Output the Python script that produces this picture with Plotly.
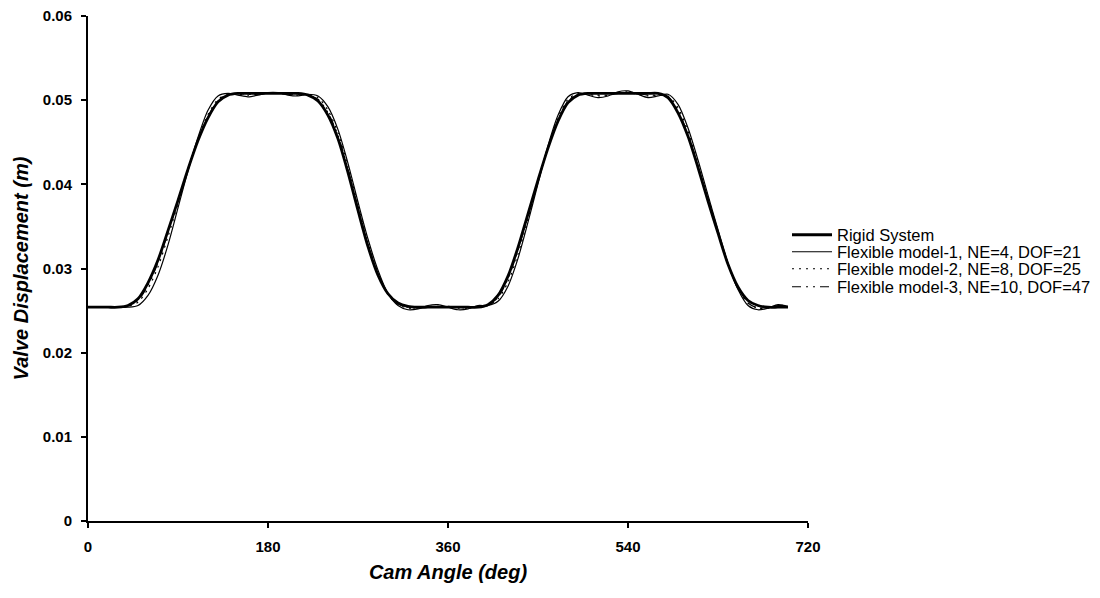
import plotly.graph_objects as go

# Cam angle (deg)
angle = list(range(0, 701, 10))

rigid = [
    0.0254, 0.0254, 0.0254, 0.0254, 0.0256, 0.0264, 0.0283, 0.0310, 0.0345, 0.0381,
    0.0418, 0.0452, 0.0479, 0.0498, 0.0506, 0.0508, 0.0508, 0.0508, 0.0508, 0.0508,
    0.0508, 0.0508, 0.0506, 0.0499, 0.0482, 0.0454, 0.0414, 0.0369, 0.0326, 0.0292,
    0.0270, 0.0259, 0.0255, 0.0254, 0.0254, 0.0254, 0.0254, 0.0254, 0.0254, 0.0254,
    0.0257, 0.0268, 0.0291, 0.0325, 0.0365, 0.0405, 0.0443, 0.0475, 0.0497, 0.0506,
    0.0508, 0.0508, 0.0508, 0.0508, 0.0508, 0.0508, 0.0508, 0.0508, 0.0503, 0.0485,
    0.0457, 0.0420, 0.0380, 0.0342, 0.0305, 0.0278, 0.0262, 0.0256, 0.0254, 0.0254,
    0.0254,
]

flex1 = [
    0.0254, 0.0254, 0.0254, 0.0254, 0.0254, 0.0256, 0.0268, 0.0292, 0.0328, 0.0372,
    0.0416, 0.0456, 0.0488, 0.0505, 0.0508, 0.0506, 0.0504, 0.0506, 0.0509, 0.0509,
    0.0506, 0.0505, 0.0507, 0.0505, 0.0492, 0.0465, 0.0425, 0.0379, 0.0335, 0.0298,
    0.0270, 0.0256, 0.0251, 0.0252, 0.0256, 0.0257, 0.0254, 0.0251, 0.0252, 0.0256,
    0.0256, 0.0261, 0.0279, 0.0312, 0.0355, 0.0401, 0.0446, 0.0482, 0.0504, 0.0509,
    0.0506, 0.0503, 0.0505, 0.0510, 0.0511, 0.0507, 0.0503, 0.0505, 0.0507, 0.0495,
    0.0467, 0.0429, 0.0387, 0.0346, 0.0306, 0.0275, 0.0256, 0.0251, 0.0253, 0.0257,
    0.0255,
]

flex2 = [
    0.0254, 0.0254, 0.0254, 0.0254, 0.0255, 0.0260, 0.0276, 0.0302, 0.0338, 0.0377,
    0.0417, 0.0454, 0.0483, 0.0501, 0.0507, 0.0507, 0.0506, 0.0507, 0.0508, 0.0508,
    0.0507, 0.0506, 0.0507, 0.0503, 0.0488, 0.0461, 0.0421, 0.0375, 0.0331, 0.0295,
    0.0269, 0.0257, 0.0253, 0.0253, 0.0255, 0.0255, 0.0254, 0.0253, 0.0253, 0.0255,
    0.0256, 0.0264, 0.0284, 0.0317, 0.0359, 0.0403, 0.0444, 0.0479, 0.0501, 0.0508,
    0.0507, 0.0505, 0.0506, 0.0509, 0.0509, 0.0507, 0.0505, 0.0506, 0.0505, 0.0491,
    0.0463, 0.0426, 0.0385, 0.0344, 0.0306, 0.0277, 0.0259, 0.0253, 0.0254, 0.0256,
    0.0255,
]

flex3 = [
    0.0254, 0.0254, 0.0254, 0.0254, 0.0255, 0.0262, 0.0280, 0.0307, 0.0343, 0.0380,
    0.0418, 0.0453, 0.0481, 0.0499, 0.0507, 0.0508, 0.0507, 0.0507, 0.0508, 0.0508,
    0.0507, 0.0507, 0.0506, 0.0501, 0.0485, 0.0458, 0.0418, 0.0372, 0.0329, 0.0294,
    0.0270, 0.0258, 0.0254, 0.0253, 0.0254, 0.0255, 0.0255, 0.0254, 0.0253, 0.0254,
    0.0256, 0.0266, 0.0288, 0.0322, 0.0363, 0.0404, 0.0443, 0.0476, 0.0499, 0.0507,
    0.0508, 0.0506, 0.0506, 0.0508, 0.0510, 0.0508, 0.0506, 0.0506, 0.0504, 0.0488,
    0.0459, 0.0421, 0.0381, 0.0342, 0.0305, 0.0276, 0.0259, 0.0253, 0.0253, 0.0256,
    0.0256,
]

names = [
    "Rigid System",
    "Flexible model-1, NE=4, DOF=21",
    "Flexible model-2, NE=8, DOF=25",
    "Flexible model-3, NE=10, DOF=47",
]

x_ticks = [0, 180, 360, 540, 720]
y_ticks = [0, 0.01, 0.02, 0.03, 0.04, 0.05, 0.06]

FONT = "Arial, Liberation Sans, sans-serif"

fig = go.Figure()
series = [rigid, flex1, flex2, flex3]
styles = [
    dict(width=2.8, dash="solid"),
    dict(width=1.2, dash="solid"),
    dict(width=1.2, dash="2px,5px"),
    dict(width=1.2, dash="9px,5px,2px,5px,2px,5px"),
]
legend_ids = ["legend", "legend2", "legend3", "legend4"]
for ys, nm, st, lg in zip(series, names, styles, legend_ids):
    fig.add_trace(go.Scatter(
        x=angle, y=ys, name=nm, mode="lines", legend=lg,
        line=dict(color="black", shape="spline", smoothing=0.8, **st),
    ))

axis_common = dict(
    showline=True, linecolor="black", linewidth=2,
    ticks="outside", ticklen=5, tickwidth=2, tickcolor="black",
    showgrid=False, zeroline=False,
    tickfont=dict(family=FONT, size=15, color="black", weight="bold"),
)

title_font = dict(family=FONT, size=20, color="black", weight="bold", style="italic")

# legend row centres (pixels from top) -> paper coordinates
row_px = [235, 252, 269, 287]
plot_top, plot_bottom = 16, 521
legend_common = dict(
    x=(787 - 88) / 720, xanchor="left", yanchor="middle",
    font=dict(family=FONT, size=16.5, color="black"),
    bgcolor="rgba(0,0,0,0)", itemwidth=40,
)
legend_layouts = {}
for lg, r in zip(legend_ids, row_px):
    legend_layouts[lg] = dict(y=(plot_bottom - r) / (plot_bottom - plot_top), **legend_common)

fig.update_layout(
    width=1100, height=598,
    margin=dict(l=88, r=292, t=16, b=77, autoexpand=False),
    plot_bgcolor="white", paper_bgcolor="white",
    font=dict(family=FONT, color="black"),
    xaxis=dict(
        range=[0, 720], tickvals=x_ticks, ticktext=[str(v) for v in x_ticks],
        ticklabelstandoff=6,
        title=dict(text="Cam Angle (deg)", standoff=11, font=title_font),
        **axis_common,
    ),
    yaxis=dict(
        range=[0, 0.06], tickvals=y_ticks,
        ticktext=["0" if v == 0 else f"{v:.2f}" for v in y_ticks],
        ticklabelstandoff=6,
        title=dict(text="Valve Displacement (m)", standoff=9, font=title_font),
        **axis_common,
    ),
    showlegend=True,
    **legend_layouts,
)

fig.write_html("out.html")
